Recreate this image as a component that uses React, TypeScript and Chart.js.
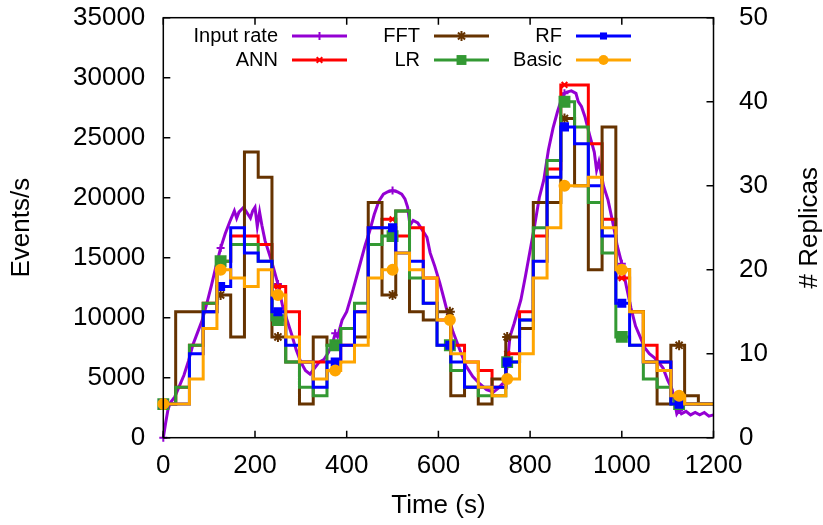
import React, { useEffect, useRef } from "react";
import { Chart, registerables } from "chart.js";

Chart.register(...registerables);

// ---------- data ----------
const X_TICKS = [0, 200, 400, 600, 800, 1000, 1200];
const Y_TICKS = [0, 5000, 10000, 15000, 20000, 25000, 30000, 35000];
const Y2_TICKS = [0, 10, 20, 30, 40, 50];

// time (s) at which each replica step starts
const STEP_TIMES = [
  0, 27, 57, 87, 117, 147, 177, 207, 237, 267, 297, 327, 357, 387, 417, 447, 477, 507, 537, 567,
  597, 627, 657, 687, 717, 747, 777, 807, 837, 867, 897, 927, 957, 987, 1017, 1047, 1077, 1107,
  1137, 1167, 1197,
];
const END_TIME = 1200;

const ANN = [4, 6, 11, 16, 21, 24, 24, 23, 18, 15, 9, 9, 9, 11, 15, 25, 26, 24, 25, 19, 14, 11, 9, 8, 6, 10, 15, 24, 32, 42, 42, 35, 26, 19, 15, 11, 9, 5, 4, 4, 4];
const FFT = [4, 15, 15, 15, 17, 12, 34, 31, 12, 9, 4, 12, 11, 13, 12, 28, 17, 27, 15, 14, 15, 5, 6, 4, 7, 12, 13, 28, 28, 38, 30, 20, 37, 20, 15, 9, 4, 11, 5, 4, 4];
const LR = [4, 6, 11, 16, 21, 23, 23, 21, 14, 9, 6, 5, 11, 13, 16, 23, 24, 27, 19, 16, 11, 8, 6, 5, 5, 9, 14, 25, 33, 40, 37, 28, 22, 12, 11, 7, 6, 4, 4, 4, 4];
const RF = [4, 4, 10, 15, 18, 25, 22, 21, 15, 11, 9, 6, 9, 11, 15, 25, 25, 22, 21, 16, 11, 9, 6, 6, 6, 9, 14, 21, 31, 37, 35, 30, 24, 16, 11, 9, 9, 4, 4, 4, 4];
const BASIC = [4, 4, 7, 13, 20, 19, 18, 20, 17, 12, 9, 7, 8, 9, 11, 19, 20, 22, 20, 19, 14, 10, 9, 6, 5, 7, 10, 19, 25, 30, 30, 31, 25, 20, 15, 9, 8, 5, 4, 4, 4];

// input rate (events/s)
const INPUT_T = [
  0, 5, 10, 15, 25, 35, 45, 55, 65, 75, 85, 95, 105, 115, 125, 135, 145, 155, 160, 165, 175, 185,
  190, 195, 200, 205, 210, 215, 222, 233, 240, 250, 260, 270, 280, 290, 300, 310, 320, 330, 340,
  350, 360, 370, 375, 380, 390, 400, 410, 420, 430, 440, 450, 460, 470, 480, 490, 500, 510, 520,
  527, 533, 538, 545, 555, 565, 575, 582, 592, 603, 612, 620, 625, 632, 645, 660, 675, 690, 705,
  720, 730, 740, 745, 750, 756, 765, 780, 790, 800, 810, 820, 830, 840, 850, 860, 870, 875, 880,
  890, 900, 905, 912, 920, 930, 940, 945, 950, 960, 970, 980, 990, 1000, 1010, 1020, 1030, 1040,
  1050, 1060, 1070, 1080, 1090, 1100, 1110, 1115, 1120, 1125, 1130, 1140, 1150, 1160, 1170, 1180,
  1190, 1200,
];
const INPUT_RATE = [
  0, 1200, 2300, 2900, 3400, 4300, 5200, 6400, 7800, 8800, 9800, 11200, 12700, 14300, 15800, 17000,
  18000, 18900, 18300, 18800, 19200, 18600, 18300, 18900, 19200, 17600, 18800, 17700, 16400, 15100,
  14200, 12800, 11000, 9800, 8600, 7300, 6300, 5600, 5300, 5800, 6300, 6500, 7100, 8000, 8700, 8400,
  9800, 10500, 11800, 13200, 14600, 16000, 17200, 18600, 19700, 20300, 20500, 20600, 20500, 20300,
  19900, 19200, 17700, 18100, 17900, 17300, 16700, 15400, 14300, 12900, 11600, 10400, 9700, 8800,
  7500, 6000, 5100, 4500, 4000, 3800, 4100, 4500, 4600, 6000, 8400, 9500, 11500, 13500, 15600,
  17700, 20000, 21500, 24000, 25800, 27200, 28400, 28700, 28800, 28900, 28700, 28000, 27600, 26700,
  25200, 23800, 22300, 23000, 21000, 19800, 18000, 16000, 14500, 12600, 10800, 9300, 8400, 7500,
  7000, 6700, 6300, 5800, 4800, 4000, 3000, 2000, 2300, 2000, 2200, 1900, 2100, 1900, 2100, 1800,
  1900,
];

// times at which point markers are drawn
const MARKER_TIMES = [0, 125, 250, 375, 500, 625, 750, 875, 1000, 1125];

// ---------- styles ----------
const FONT_FAMILY = "'Liberation Sans', Arial, Helvetica, sans-serif";
const TICK_SIZE = 26;
const TITLE_SIZE = 26;
const LEGEND_SIZE = 20;
const AREA = { left: 163.3, right: 713.5, top: 17.7, bottom: 437.7 };
const C_INPUT = "#9400d3";
const C_ANN = "#ff0000";
const C_FFT = "#663300";
const C_LR = "#339933";
const C_RF = "#0000ff";
const C_BASIC = "#ffa500";

function stepPoints(values: number[]) {
  const ts = Array.from(new Set([...STEP_TIMES, ...MARKER_TIMES, END_TIME])).sort((a, b) => a - b);
  return ts.map((t) => {
    let v = values[0];
    for (let i = 0; i < STEP_TIMES.length; i++) if (STEP_TIMES[i] <= t) v = values[i];
    return { x: t, y: v };
  });
}

function markerRadius(r: number) {
  return (ctx: any) => (ctx.raw && MARKER_TIMES.includes(ctx.raw.x) ? r : 0);
}

type Sym = { label: string; color: string; style: string; r: number };
const LEGEND_COLS: Sym[][] = [
  [
    { label: "Input rate", color: C_INPUT, style: "cross", r: 4 },
    { label: "ANN", color: C_ANN, style: "crossRot", r: 4 },
  ],
  [
    { label: "FFT", color: C_FFT, style: "star", r: 5 },
    { label: "LR", color: C_LR, style: "rect", r: 7 },
  ],
  [
    { label: "RF", color: C_RF, style: "rect", r: 5 },
    { label: "Basic", color: C_BASIC, style: "circle", r: 5 },
  ],
];

function drawSymbol(ctx: CanvasRenderingContext2D, style: string, x: number, y: number, r: number, color: string) {
  ctx.save();
  ctx.fillStyle = color;
  ctx.strokeStyle = color;
  ctx.lineWidth = 2;
  ctx.beginPath();
  if (style === "circle") {
    ctx.arc(x, y, r, 0, Math.PI * 2);
    ctx.fill();
  } else if (style === "rect") {
    const s = r * Math.SQRT1_2;
    ctx.rect(x - s, y - s, 2 * s, 2 * s);
    ctx.fill();
  } else if (style === "cross") {
    ctx.moveTo(x, y - r);
    ctx.lineTo(x, y + r);
    ctx.moveTo(x - r, y);
    ctx.lineTo(x + r, y);
    ctx.stroke();
  } else if (style === "crossRot") {
    const s = r * Math.SQRT1_2;
    ctx.moveTo(x - s, y - s);
    ctx.lineTo(x + s, y + s);
    ctx.moveTo(x - s, y + s);
    ctx.lineTo(x + s, y - s);
    ctx.stroke();
  } else if (style === "star") {
    const s = r * Math.SQRT1_2;
    ctx.moveTo(x, y - r);
    ctx.lineTo(x, y + r);
    ctx.moveTo(x - r, y);
    ctx.lineTo(x + r, y);
    ctx.moveTo(x - s, y - s);
    ctx.lineTo(x + s, y + s);
    ctx.moveTo(x - s, y + s);
    ctx.lineTo(x + s, y - s);
    ctx.stroke();
  }
  ctx.restore();
}

const framePlugin = {
  id: "gnuFrame",
  afterDatasetsDraw(chart: any) {
    const { ctx, chartArea } = chart;
    const { left, right, top, bottom } = chartArea;
    const xs = chart.scales.x;
    const ys = chart.scales.y;
    const y2s = chart.scales.y2;
    ctx.save();
    ctx.strokeStyle = "#000";
    ctx.lineWidth = 1.5;
    ctx.strokeRect(left, top, right - left, bottom - top);
    const TL = 7;
    ctx.beginPath();
    X_TICKS.forEach((v) => {
      const px = xs.getPixelForValue(v);
      ctx.moveTo(px, bottom);
      ctx.lineTo(px, bottom - TL);
      ctx.moveTo(px, top);
      ctx.lineTo(px, top + TL);
    });
    Y_TICKS.forEach((v) => {
      const py = ys.getPixelForValue(v);
      ctx.moveTo(left, py);
      ctx.lineTo(left + TL, py);
    });
    Y2_TICKS.forEach((v) => {
      const py = y2s.getPixelForValue(v);
      ctx.moveTo(right, py);
      ctx.lineTo(right - TL, py);
    });
    ctx.stroke();
    ctx.restore();
  },
  afterDraw(chart: any) {
    const { ctx, chartArea } = chart;
    ctx.save();
    // right axis title, reading bottom-to-top
    ctx.fillStyle = "#000";
    ctx.font = `${TITLE_SIZE}px ${FONT_FAMILY}`;
    ctx.textAlign = "center";
    ctx.textBaseline = "middle";
    ctx.translate(810, (chartArea.top + chartArea.bottom) / 2);
    ctx.rotate(-Math.PI / 2);
    ctx.fillText("# Replicas", 0, 0);
    ctx.restore();

    // legend (gnuplot style: text right-aligned, then line sample)
    ctx.save();
    ctx.font = `${LEGEND_SIZE}px ${FONT_FAMILY}`;
    ctx.textBaseline = "middle";
    ctx.textAlign = "right";
    const textRight = [278, 420, 562];
    const rowsY = [36, 60];
    LEGEND_COLS.forEach((col, ci) => {
      col.forEach((item, ri) => {
        const tx = textRight[ci];
        const y = rowsY[ri];
        ctx.fillStyle = "#000";
        ctx.fillText(item.label, tx, y);
        const x0 = tx + 14;
        const x1 = tx + 69;
        ctx.strokeStyle = item.color;
        ctx.lineWidth = 3;
        ctx.beginPath();
        ctx.moveTo(x0, y);
        ctx.lineTo(x1, y);
        ctx.stroke();
        drawSymbol(ctx, item.style, (x0 + x1) / 2, y, item.r, item.color);
      });
    });
    ctx.restore();
  },
};

export default function App() {
  const ref = useRef<HTMLCanvasElement | null>(null);

  useEffect(() => {
    if (!ref.current) return;
    const tickFont = { family: FONT_FAMILY, size: TICK_SIZE };
    const titleFont = { family: FONT_FAMILY, size: TITLE_SIZE };
    const plain = (v: any) => String(v);
    const stepDs = (label: string, values: number[], color: string, style: string, r: number) => ({
      label,
      data: stepPoints(values),
      yAxisID: "y2",
      borderColor: color,
      backgroundColor: color,
      borderWidth: 3,
      // horizontal at the previous value, then vertical at the next step time
      stepped: "before" as const,
      pointStyle: style,
      pointRadius: markerRadius(r),
      pointBorderWidth: 2,
      pointBorderColor: color,
      pointBackgroundColor: color,
      clip: false,
    });

    const chart = new Chart(ref.current, {
      type: "line",
      data: {
        datasets: [
          stepDs("Basic", BASIC, C_BASIC, "circle", 5),
          stepDs("RF", RF, C_RF, "rect", 5),
          stepDs("LR", LR, C_LR, "rect", 7),
          stepDs("FFT", FFT, C_FFT, "star", 5),
          stepDs("ANN", ANN, C_ANN, "crossRot", 4),
          {
            label: "Input rate",
            data: INPUT_T.map((t, i) => ({ x: t, y: INPUT_RATE[i] })),
            yAxisID: "y",
            borderColor: C_INPUT,
            backgroundColor: C_INPUT,
            borderWidth: 3,
            tension: 0,
            pointStyle: "cross",
            pointRadius: markerRadius(4),
            pointBorderWidth: 2,
            pointBorderColor: C_INPUT,
            clip: false,
          } as any,
        ],
      },
      options: {
        animation: false,
        responsive: false,
        devicePixelRatio: 1,
        layout: { padding: { top: AREA.top, right: 0, left: 0, bottom: 0 } },
        plugins: { legend: { display: false }, tooltip: { enabled: false } },
        scales: {
          x: {
            type: "linear",
            min: 0,
            max: 1200,
            grid: { display: false, drawTicks: true, tickLength: 13 },
            border: { display: false },
            ticks: { stepSize: 200, padding: 0, font: tickFont, color: "#000", maxRotation: 0, autoSkip: false, callback: plain },
            title: { display: true, text: "Time (s)", font: titleFont, color: "#000", padding: { top: 0, bottom: 4 } },
            afterFit: (s: any) => {
              s.height = 525 - AREA.bottom;
            },
          },
          y: {
            type: "linear",
            position: "left",
            min: 0,
            max: 35000,
            grid: { display: false, drawTicks: true, tickLength: 18 },
            border: { display: false },
            ticks: { stepSize: 5000, padding: 0, font: tickFont, color: "#000", callback: plain },
            title: { display: true, text: "Events/s", font: titleFont, color: "#000", padding: { top: 6, bottom: 0 } },
            afterFit: (s: any) => {
              s.width = AREA.left;
            },
          },
          y2: {
            type: "linear",
            position: "right",
            min: 0,
            max: 50,
            grid: { display: false, drawTicks: true, tickLength: 25.5 },
            border: { display: false },
            ticks: { stepSize: 10, padding: 0, font: tickFont, color: "#000", callback: plain },
            title: { display: false, text: "# Replicas" },
            afterFit: (s: any) => {
              s.width = 823 - AREA.right;
            },
          },
        },
      } as any,
      plugins: [framePlugin],
    });
    return () => chart.destroy();
  }, []);

  return (
    <div style={{ position: "absolute", left: 0, top: 0, width: 823, height: 525, background: "#fff" }}>
      <canvas ref={ref} width={823} height={525} style={{ display: "block", width: 823, height: 525 }} />
    </div>
  );
}
